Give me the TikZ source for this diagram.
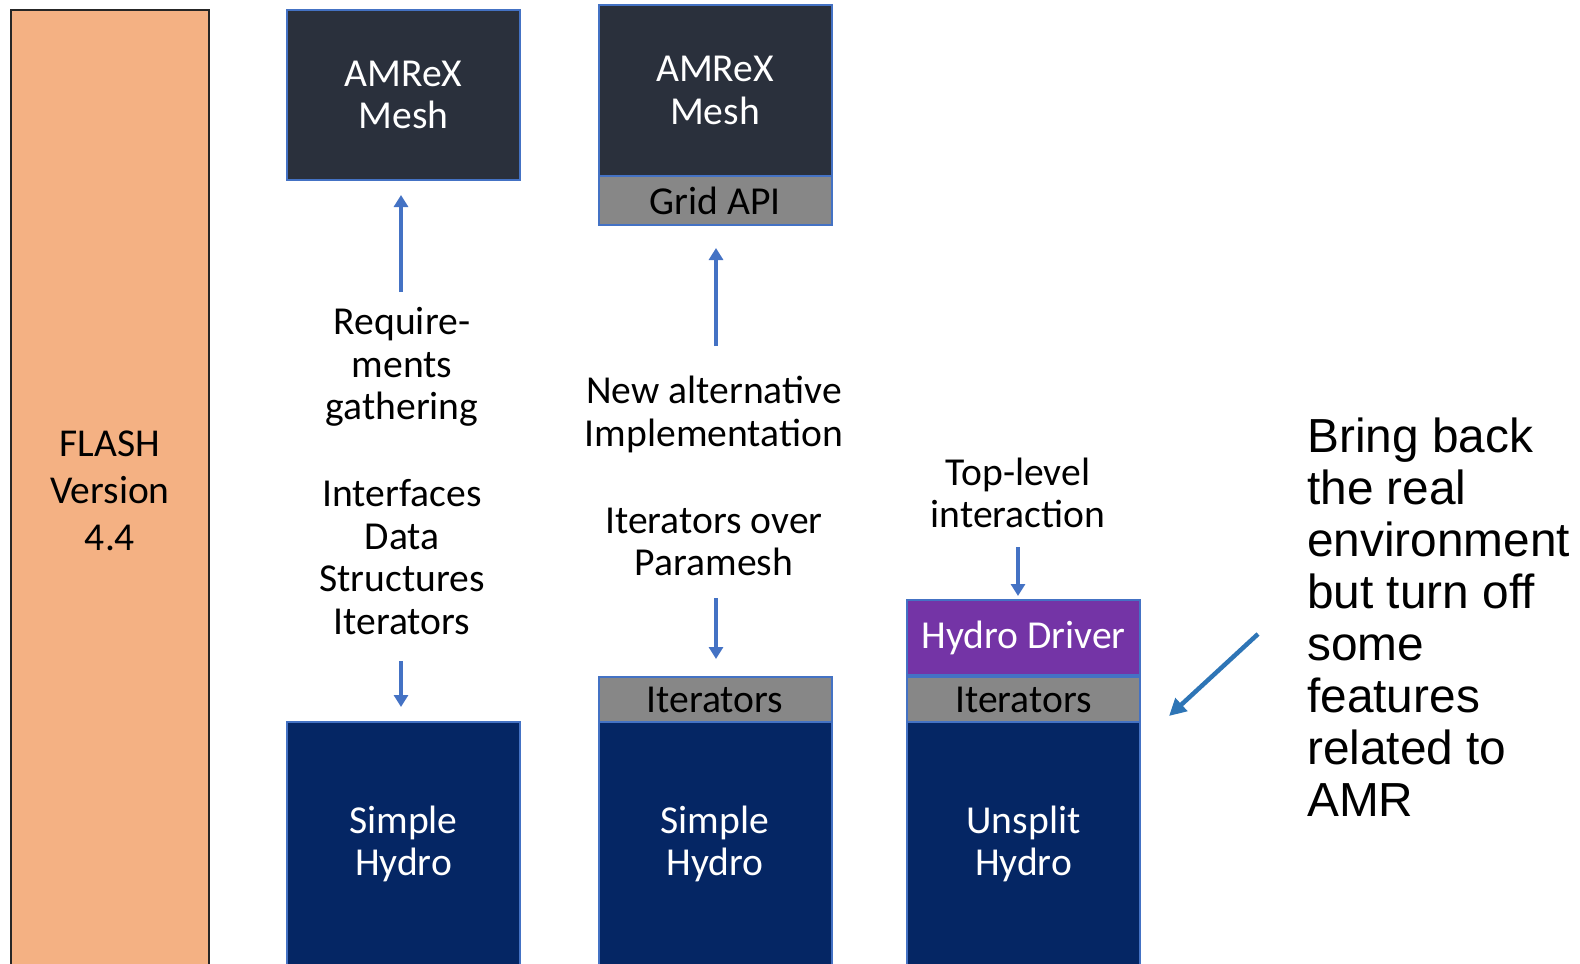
\documentclass[tikz,border=0pt]{standalone}
\usepackage{fontspec}
\setmainfont{Carlito}
\newfontfamily\notefont{Liberation Sans}
\usetikzlibrary{arrows.meta}
\definecolor{meshSlate}{HTML}{2A303C}
\definecolor{hydroNavy}{HTML}{052664}
\definecolor{apiGray}{HTML}{878787}
\definecolor{driverPurple}{HTML}{7434A6}
\definecolor{flashOrange}{HTML}{F4B183}
\definecolor{edgeBlue}{HTML}{4472C4}
\definecolor{noteBlue}{HTML}{2E75B6}
\begin{document}
\begin{tikzpicture}
[x=1pt,y=-1pt,
  boxDecorate/.style={draw=edgeBlue,line width=2pt,inner sep=0pt,minimum width=233pt,
    text=white,align=center,font=\fontsize{39.6}{42.6}\selectfont},
  textDecorate/.style={inner sep=0pt,align=center,font=\fontsize{39.6}{42.6}\selectfont},
  arrowDecorate/.style={-{Triangle[length=12pt,width=14pt]},draw=edgeBlue,line width=4pt}]
\useasboundingbox (0,0) rectangle (1580,964);
%% FLASH column
\node (flash) at (110,490.5) [draw=black!85,line width=2.5pt,fill=flashOrange,
  minimum width=198pt,minimum height=961pt,align=center,
  font=\fontsize{39.5}{47}\selectfont] {FLASH\\Version\\4.4};
%% boxes
\foreach \nodename/\x/\y/\h/\fillcolor/\boxtext in {
  mesha/403.5/95/170/meshSlate/{AMReX\\Mesh},
  meshb/715/90.5/171/meshSlate/{AMReX\\Mesh},
  hydroa/403.5/844/244/hydroNavy/{Simple\\Hydro},
  hydrob/715/844/244/hydroNavy/{Simple\\Hydro},
  hydroc/1023.5/844/244/hydroNavy/{Unsplit\\Hydro},
  driver/1023.5/637.5/75/driverPurple/{Hydro Driver}}
{
  \node (\nodename) at (\x,\y) [boxDecorate,fill=\fillcolor,minimum height=\h] {\boxtext};
}
\foreach \nodename/\x/\y/\h/\boxtext in {
  gridapi/715/200.5/49/{Grid API},
  itersb/715/699.5/45/{Iterators},
  itersc/1023.5/699.5/45/{Iterators}}
{
  \node (\nodename) at (\x,\y) [boxDecorate,fill=apiGray,text=black,minimum height=\h] {\boxtext};
}
%% labels
\node (req) at (402,367) [textDecorate] {Require-\\ments\\gathering};
\node (iface) at (402,557) [textDecorate] {Interfaces\\Data\\Structures\\Iterators};
\node (newalt) at (714,414.5) [textDecorate] {New alternative\\Implementation};
\node (itover) at (714,542) [textDecorate] {Iterators over\\Paramesh};
\node (toplevel) at (1018,493) [textDecorate] {Top-level\\interaction};
\node (note) at (1307,418) [anchor=north west,inner sep=0pt,align=left,
  font=\notefont\fontsize{47.8}{52}\selectfont]
  {Bring back\\the real\\environment\\but turn off\\some\\features\\related to\\AMR};
%% arrows
\coordinate (reqtail) at (401,292);
\coordinate (ifacetail) at (401,661);
\coordinate (newalttail) at (716,346);
\coordinate (itovertail) at (716,598);
\coordinate (toptail) at (1018,547);
\coordinate (notetail) at (1258,634);
\coordinate (notehead) at (1169,716);
\draw[arrowDecorate,shorten >=14pt] (reqtail) -- (reqtail |- mesha.south);
\draw[arrowDecorate,shorten >=14pt] (ifacetail) -- (ifacetail |- hydroa.north);
\draw[arrowDecorate,shorten >=22pt] (newalttail) -- (newalttail |- gridapi.south);
\draw[arrowDecorate,shorten >=17pt] (itovertail) -- (itovertail |- itersb.north);
\draw[arrowDecorate,shorten >=3pt] (toptail) -- (toptail |- driver.north);
\draw[-{Triangle[length=17pt,width=17pt]},draw=noteBlue,line width=4.5pt] (notetail) -- (notehead);
\end{tikzpicture}
\end{document}
